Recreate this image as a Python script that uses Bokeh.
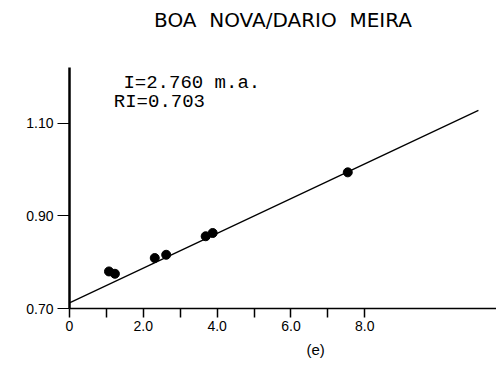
from bokeh.plotting import figure
from bokeh.models import Range1d, FixedTicker, Label, Title
from bokeh.embed import file_html
from bokeh.resources import INLINE

# data
pts_x = [1.07, 1.23, 2.31, 2.62, 3.69, 3.88, 7.54]
pts_y = [0.780, 0.775, 0.809, 0.816, 0.856, 0.863, 0.994]
fit_x = [0.0, 11.08]
fit_y = [0.712, 1.128]
x_ticks = [0, 1, 2, 3, 4, 5, 6, 7, 8]
x_labels = ["0", "", "2.0", "", "4.0", "", "6.0", "", "8.0"]
y_ticks = [0.70, 0.90, 1.10]
y_labels = ["0.70", "0.90", "1.10"]
title_text = "BOA\u00a0\u00a0NOVA/DARIO\u00a0\u00a0MEIRA"
note1 = "I=2.760 m.a."
note2 = "RI=0.703"
x_title = "(e)"

p = figure(width=496, height=366, output_backend="svg", toolbar_location=None,
           x_range=Range1d(0, 11.57), y_range=Range1d(0.70, 1.2204),
           min_border_left=69, min_border_right=0, min_border_top=66,
           min_border_bottom=58)
p.outline_line_color = None
p.xgrid.visible = False
p.ygrid.visible = False
p.background_fill_color = "white"
p.border_fill_color = "white"

p.title.text = title_text
p.title.align = "center"
p.title.standoff = 10
p.title.offset = 4
p.title.text_font = "DejaVu Sans"
p.title.text_font_size = "20px"
p.title.text_font_style = "normal"
p.title.text_color = "black"
# blank spacer between the title and the plot frame
p.add_layout(Title(text="\u00a0", text_font_size="20px", standoff=7), "above")

p.add_layout(Title(text=x_title, align="left", offset=237,
                   text_font="Liberation Sans", text_font_size="15px",
                   text_font_style="normal", text_color="black"), "below")

p.xaxis.ticker = FixedTicker(ticks=x_ticks)
p.xaxis.major_label_overrides = {t: l for t, l in zip(x_ticks, x_labels)}
p.xaxis.axis_line_width = 1.6
p.xaxis.major_tick_line_width = 1.5
p.xaxis.major_tick_out = 9
p.xaxis.major_tick_in = 0
p.xaxis.minor_tick_line_color = None
p.xaxis.major_label_standoff = 3
p.xaxis.major_label_text_font = "Liberation Sans"
p.xaxis.major_label_text_font_size = "14px"
p.xaxis.major_label_text_color = "black"
p.xaxis.axis_line_color = "black"

p.yaxis.ticker = FixedTicker(ticks=y_ticks)
p.yaxis.major_label_overrides = {t: l for t, l in zip(y_ticks, y_labels)}
p.yaxis.axis_line_width = 2.5
p.yaxis.major_tick_line_width = 1.2
p.yaxis.major_tick_out = 12
p.yaxis.major_tick_in = 0
p.yaxis.minor_tick_line_color = None
p.yaxis.major_label_standoff = 4
p.yaxis.major_label_text_font = "Liberation Sans"
p.yaxis.major_label_text_font_size = "14px"
p.yaxis.major_label_text_color = "black"
p.yaxis.axis_line_color = "black"

p.line(fit_x, fit_y, line_color="black", line_width=1.3)
p.scatter(pts_x, pts_y, size=9, color="black")

p.add_layout(Label(x=1.46, y=1.188, text=note1, text_align="left",
                   text_baseline="alphabetic", text_font="Liberation Mono",
                   text_font_size="19px", text_color="black"))
p.add_layout(Label(x=1.20, y=1.145, text=note2, text_align="left",
                   text_baseline="alphabetic", text_font="Liberation Mono",
                   text_font_size="19px", text_color="black"))

open("out.html", "w").write(file_html(p, INLINE))
